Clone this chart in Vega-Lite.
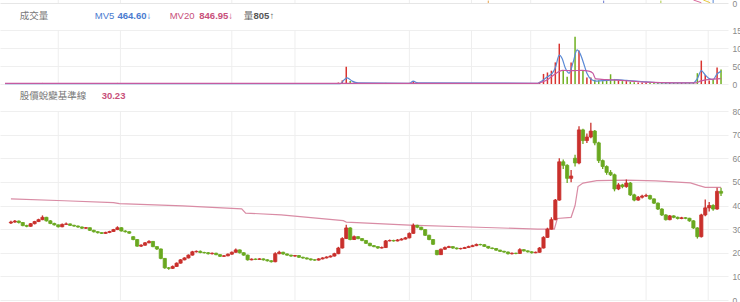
{
  "$schema": "https://vega.github.io/schema/vega-lite/v6.json",
  "width": 728,
  "height": 302,
  "autosize": {"type": "none"},
  "padding": {"left": 0, "top": 0, "right": 12, "bottom": 0},
  "background": "#ffffff",
  "config": {
    "view": {"stroke": null},
    "axis": {"labelFont": "Liberation Sans", "labelFontSize": 8.5, "labelColor": "#8a8a8a", "gridColor": "#efefef", "domain": false, "ticks": false, "tickSize": 0, "labelPadding": 4, "labelOverlap": false, "title": null},
    "text": {"font": "Liberation Sans, Noto Sans CJK TC, sans-serif", "fontSize": 9.5, "align": "left", "baseline": "middle"}
  },
  "datasets": {
    "k": [
      {"t":6,"o":32.6,"c":33.0,"h":33.5,"l":32.2,"v":2},
      {"t":10,"o":33.0,"c":33.4,"h":33.9,"l":32.7,"v":2},
      {"t":14,"o":33.4,"c":32.8,"h":33.6,"l":32.4,"v":2},
      {"t":18,"o":32.8,"c":31.5,"h":33.0,"l":31.2,"v":2},
      {"t":22,"o":31.5,"c":31.2,"h":31.8,"l":30.8,"v":2},
      {"t":26,"o":31.2,"c":32.3,"h":32.6,"l":31.0,"v":2},
      {"t":30,"o":32.3,"c":33.2,"h":33.5,"l":32.0,"v":2},
      {"t":34,"o":33.2,"c":34.0,"h":34.4,"l":33.0,"v":2},
      {"t":38,"o":34.0,"c":35.0,"h":35.8,"l":33.8,"v":3},
      {"t":42,"o":35.0,"c":33.5,"h":35.2,"l":33.2,"v":2},
      {"t":46,"o":33.5,"c":32.4,"h":33.8,"l":32.1,"v":2},
      {"t":50,"o":32.4,"c":31.8,"h":32.7,"l":31.5,"v":2},
      {"t":54,"o":31.8,"c":31.0,"h":32.0,"l":30.7,"v":2},
      {"t":58,"o":31.0,"c":32.0,"h":32.4,"l":30.8,"v":2},
      {"t":62,"o":32.0,"c":32.2,"h":32.8,"l":31.8,"v":2},
      {"t":66,"o":32.2,"c":31.6,"h":32.4,"l":31.3,"v":2},
      {"t":70,"o":31.6,"c":31.3,"h":31.9,"l":31.0,"v":2},
      {"t":74,"o":31.3,"c":30.9,"h":31.5,"l":30.6,"v":2},
      {"t":78,"o":30.9,"c":30.4,"h":31.1,"l":30.1,"v":2},
      {"t":82,"o":30.4,"c":30.6,"h":30.9,"l":30.1,"v":2},
      {"t":86,"o":30.6,"c":29.5,"h":30.7,"l":29.2,"v":2},
      {"t":90,"o":29.5,"c":28.9,"h":29.7,"l":28.6,"v":2},
      {"t":94,"o":28.9,"c":28.5,"h":29.1,"l":28.2,"v":2},
      {"t":98,"o":28.5,"c":28.2,"h":28.7,"l":27.9,"v":2},
      {"t":102,"o":28.2,"c":28.6,"h":28.9,"l":28.0,"v":2},
      {"t":106,"o":28.6,"c":29.0,"h":29.3,"l":28.3,"v":2},
      {"t":110,"o":29.0,"c":29.8,"h":30.1,"l":28.8,"v":2},
      {"t":114,"o":29.8,"c":30.6,"h":31.2,"l":29.6,"v":3},
      {"t":118,"o":30.6,"c":29.2,"h":30.8,"l":29.0,"v":2},
      {"t":122,"o":29.2,"c":28.9,"h":29.5,"l":28.6,"v":2},
      {"t":126,"o":28.9,"c":28.3,"h":29.1,"l":28.0,"v":2},
      {"t":130,"o":26.8,"c":25.6,"h":27.0,"l":25.3,"v":2},
      {"t":134,"o":25.6,"c":22.8,"h":25.8,"l":22.5,"v":3},
      {"t":138,"o":22.8,"c":23.2,"h":23.6,"l":22.4,"v":2},
      {"t":142,"o":23.2,"c":24.2,"h":24.5,"l":23.0,"v":2},
      {"t":146,"o":24.2,"c":24.8,"h":25.3,"l":24.0,"v":2},
      {"t":150,"o":24.8,"c":22.6,"h":25.0,"l":22.3,"v":2},
      {"t":154,"o":22.6,"c":21.6,"h":22.8,"l":21.2,"v":2},
      {"t":158,"o":21.6,"c":17.6,"h":21.8,"l":17.3,"v":3},
      {"t":162,"o":17.6,"c":13.6,"h":17.8,"l":13.2,"v":3},
      {"t":166,"o":13.6,"c":13.4,"h":14.0,"l":12.8,"v":2},
      {"t":170,"o":13.4,"c":14.2,"h":14.6,"l":13.1,"v":2},
      {"t":174,"o":14.2,"c":15.6,"h":15.9,"l":14.0,"v":2},
      {"t":178,"o":15.6,"c":17.0,"h":17.3,"l":15.4,"v":2},
      {"t":182,"o":17.0,"c":17.8,"h":18.1,"l":16.8,"v":2},
      {"t":186,"o":17.8,"c":19.0,"h":19.3,"l":17.6,"v":2},
      {"t":190,"o":19.0,"c":20.4,"h":20.8,"l":18.8,"v":2},
      {"t":194,"o":20.4,"c":20.6,"h":21.0,"l":20.1,"v":2},
      {"t":198,"o":20.6,"c":20.1,"h":20.9,"l":19.8,"v":2},
      {"t":202,"o":20.1,"c":20.0,"h":20.4,"l":19.7,"v":2},
      {"t":206,"o":20.0,"c":19.6,"h":20.3,"l":19.3,"v":2},
      {"t":210,"o":19.6,"c":19.8,"h":20.1,"l":19.3,"v":2},
      {"t":214,"o":19.8,"c":19.2,"h":20.0,"l":18.9,"v":2},
      {"t":218,"o":19.2,"c":18.5,"h":19.4,"l":18.2,"v":2},
      {"t":222,"o":18.5,"c":18.7,"h":19.0,"l":18.2,"v":2},
      {"t":226,"o":18.7,"c":19.4,"h":19.7,"l":18.5,"v":2},
      {"t":230,"o":19.4,"c":20.2,"h":20.5,"l":19.2,"v":2},
      {"t":234,"o":20.2,"c":21.2,"h":21.8,"l":20.0,"v":3},
      {"t":238,"o":21.2,"c":20.0,"h":21.4,"l":19.7,"v":2},
      {"t":242,"o":20.0,"c":19.0,"h":20.2,"l":18.7,"v":2},
      {"t":246,"o":19.0,"c":17.0,"h":19.2,"l":16.7,"v":2},
      {"t":250,"o":17.0,"c":17.3,"h":17.6,"l":16.8,"v":2},
      {"t":254,"o":17.3,"c":17.2,"h":17.6,"l":16.9,"v":2},
      {"t":258,"o":17.2,"c":17.4,"h":17.7,"l":17.0,"v":2},
      {"t":262,"o":17.4,"c":17.0,"h":17.6,"l":16.7,"v":2},
      {"t":266,"o":17.0,"c":16.6,"h":17.2,"l":16.3,"v":2},
      {"t":270,"o":16.6,"c":16.2,"h":16.8,"l":15.9,"v":2},
      {"t":274,"o":16.2,"c":19.6,"h":20.2,"l":16.0,"v":3},
      {"t":278,"o":19.6,"c":20.2,"h":20.8,"l":19.4,"v":2},
      {"t":282,"o":20.2,"c":19.5,"h":20.4,"l":19.2,"v":2},
      {"t":286,"o":19.5,"c":19.0,"h":19.7,"l":18.7,"v":2},
      {"t":290,"o":19.0,"c":18.6,"h":19.2,"l":18.3,"v":2},
      {"t":294,"o":18.6,"c":18.8,"h":19.1,"l":18.3,"v":2},
      {"t":298,"o":18.8,"c":18.1,"h":19.0,"l":17.8,"v":2},
      {"t":302,"o":18.1,"c":17.8,"h":18.3,"l":17.5,"v":2},
      {"t":306,"o":17.8,"c":17.4,"h":18.0,"l":17.1,"v":2},
      {"t":310,"o":17.4,"c":17.0,"h":17.6,"l":16.7,"v":2},
      {"t":314,"o":17.0,"c":16.9,"h":17.3,"l":16.6,"v":2},
      {"t":318,"o":16.9,"c":17.4,"h":17.7,"l":16.7,"v":2},
      {"t":322,"o":17.4,"c":17.8,"h":18.1,"l":17.2,"v":2},
      {"t":326,"o":17.8,"c":18.2,"h":18.5,"l":17.6,"v":2},
      {"t":330,"o":18.2,"c":18.6,"h":18.9,"l":18.0,"v":2},
      {"t":334,"o":18.6,"c":19.6,"h":20.0,"l":18.4,"v":2},
      {"t":338,"o":19.6,"c":22.0,"h":22.5,"l":19.4,"v":4},
      {"t":342,"o":22.0,"c":26.0,"h":26.6,"l":21.8,"v":10},
      {"t":346,"o":26.0,"c":30.5,"h":31.8,"l":25.8,"v":48},
      {"t":350,"o":30.5,"c":25.6,"h":30.8,"l":25.3,"v":8},
      {"t":354,"o":25.6,"c":26.8,"h":27.3,"l":25.4,"v":4},
      {"t":358,"o":26.8,"c":26.0,"h":27.0,"l":25.7,"v":3},
      {"t":362,"o":26.0,"c":25.2,"h":26.2,"l":24.9,"v":3},
      {"t":366,"o":25.2,"c":24.0,"h":25.4,"l":23.7,"v":2},
      {"t":370,"o":24.0,"c":23.0,"h":24.2,"l":22.7,"v":2},
      {"t":374,"o":23.0,"c":22.6,"h":23.3,"l":22.3,"v":2},
      {"t":378,"o":22.6,"c":22.0,"h":22.8,"l":21.7,"v":2},
      {"t":382,"o":22.0,"c":22.2,"h":22.6,"l":21.8,"v":2},
      {"t":386,"o":22.2,"c":25.0,"h":25.4,"l":22.0,"v":3},
      {"t":390,"o":25.0,"c":25.2,"h":25.6,"l":24.8,"v":2},
      {"t":394,"o":25.2,"c":25.0,"h":25.5,"l":24.7,"v":2},
      {"t":398,"o":25.0,"c":25.4,"h":25.8,"l":24.8,"v":2},
      {"t":402,"o":25.4,"c":25.8,"h":26.2,"l":25.2,"v":2},
      {"t":406,"o":25.8,"c":26.3,"h":26.7,"l":25.6,"v":2},
      {"t":410,"o":26.3,"c":28.2,"h":28.6,"l":26.1,"v":3},
      {"t":414,"o":28.2,"c":31.6,"h":32.4,"l":28.0,"v":8},
      {"t":418,"o":31.6,"c":30.8,"h":31.9,"l":30.4,"v":4},
      {"t":422,"o":30.8,"c":29.8,"h":31.0,"l":29.5,"v":3},
      {"t":426,"o":29.8,"c":27.4,"h":30.0,"l":27.1,"v":3},
      {"t":430,"o":27.4,"c":25.6,"h":27.6,"l":25.3,"v":2},
      {"t":434,"o":25.6,"c":23.6,"h":25.8,"l":23.3,"v":2},
      {"t":438,"o":21.0,"c":19.2,"h":21.2,"l":18.9,"v":3},
      {"t":442,"o":19.2,"c":21.5,"h":21.8,"l":19.0,"v":2},
      {"t":446,"o":21.5,"c":22.2,"h":22.6,"l":21.3,"v":2},
      {"t":450,"o":22.2,"c":22.6,"h":23.0,"l":22.0,"v":2},
      {"t":454,"o":22.6,"c":22.0,"h":22.8,"l":21.7,"v":2},
      {"t":458,"o":22.0,"c":21.7,"h":22.2,"l":21.4,"v":2},
      {"t":462,"o":21.7,"c":21.8,"h":22.1,"l":21.4,"v":2},
      {"t":466,"o":21.8,"c":22.2,"h":22.5,"l":21.6,"v":2},
      {"t":470,"o":22.2,"c":22.6,"h":23.0,"l":22.0,"v":2},
      {"t":474,"o":22.6,"c":23.0,"h":23.4,"l":22.4,"v":2},
      {"t":478,"o":23.0,"c":23.5,"h":23.9,"l":22.8,"v":2},
      {"t":482,"o":23.5,"c":23.4,"h":23.8,"l":23.1,"v":2},
      {"t":486,"o":23.4,"c":22.7,"h":23.6,"l":22.4,"v":2},
      {"t":490,"o":22.7,"c":22.0,"h":22.9,"l":21.7,"v":2},
      {"t":494,"o":22.0,"c":21.8,"h":22.2,"l":21.5,"v":2},
      {"t":498,"o":21.8,"c":21.1,"h":22.0,"l":20.8,"v":2},
      {"t":502,"o":21.1,"c":20.6,"h":21.3,"l":20.3,"v":2},
      {"t":506,"o":20.6,"c":20.3,"h":20.8,"l":20.0,"v":2},
      {"t":510,"o":20.3,"c":19.6,"h":20.5,"l":19.3,"v":2},
      {"t":514,"o":19.6,"c":19.8,"h":20.1,"l":19.3,"v":2},
      {"t":518,"o":19.8,"c":19.7,"h":20.0,"l":19.4,"v":2},
      {"t":522,"o":19.7,"c":21.3,"h":21.9,"l":19.5,"v":2},
      {"t":526,"o":21.3,"c":20.8,"h":21.5,"l":20.5,"v":2},
      {"t":530,"o":20.8,"c":20.4,"h":21.0,"l":20.1,"v":2},
      {"t":534,"o":20.4,"c":20.0,"h":20.6,"l":19.7,"v":2},
      {"t":538,"o":20.0,"c":20.2,"h":20.5,"l":19.8,"v":2},
      {"t":542,"o":20.2,"c":22.0,"h":22.4,"l":20.0,"v":6},
      {"t":546,"o":22.0,"c":26.5,"h":27.0,"l":21.8,"v":28},
      {"t":550,"o":26.5,"c":30.0,"h":30.6,"l":26.3,"v":32},
      {"t":554,"o":30.0,"c":34.0,"h":35.0,"l":29.8,"v":37},
      {"t":558,"o":34.0,"c":42.3,"h":42.8,"l":33.8,"v":60},
      {"t":562,"o":42.3,"c":58.5,"h":60.0,"l":42.0,"v":112},
      {"t":566,"o":58.5,"c":57.0,"h":59.5,"l":55.5,"v":37},
      {"t":570,"o":57.0,"c":51.5,"h":57.5,"l":49.5,"v":20},
      {"t":574,"o":51.5,"c":52.5,"h":55.0,"l":49.8,"v":60},
      {"t":578,"o":60.0,"c":58.0,"h":61.5,"l":56.5,"v":131},
      {"t":582,"o":58.0,"c":72.0,"h":73.5,"l":57.5,"v":93},
      {"t":586,"o":72.0,"c":67.5,"h":72.5,"l":66.0,"v":37},
      {"t":590,"o":67.5,"c":69.0,"h":70.5,"l":66.5,"v":18},
      {"t":594,"o":69.0,"c":71.5,"h":75.0,"l":68.5,"v":18},
      {"t":598,"o":71.5,"c":66.5,"h":72.0,"l":65.5,"v":12},
      {"t":602,"o":66.5,"c":59.0,"h":67.0,"l":58.0,"v":10},
      {"t":606,"o":59.0,"c":56.5,"h":59.5,"l":55.5,"v":8},
      {"t":610,"o":56.5,"c":54.0,"h":57.0,"l":53.0,"v":12},
      {"t":614,"o":54.0,"c":53.0,"h":55.0,"l":52.5,"v":27},
      {"t":618,"o":53.0,"c":47.0,"h":53.5,"l":46.0,"v":14},
      {"t":622,"o":47.0,"c":48.7,"h":49.5,"l":46.5,"v":10},
      {"t":626,"o":48.7,"c":48.0,"h":49.2,"l":47.3,"v":8},
      {"t":630,"o":48.0,"c":49.5,"h":51.0,"l":47.5,"v":8},
      {"t":634,"o":49.5,"c":44.5,"h":50.0,"l":44.0,"v":6},
      {"t":638,"o":44.5,"c":42.3,"h":45.0,"l":41.8,"v":5},
      {"t":642,"o":42.3,"c":43.5,"h":44.0,"l":42.0,"v":4},
      {"t":646,"o":43.5,"c":44.0,"h":44.6,"l":43.0,"v":4},
      {"t":650,"o":44.0,"c":44.2,"h":45.0,"l":43.6,"v":4},
      {"t":654,"o":44.2,"c":42.8,"h":44.5,"l":42.4,"v":4},
      {"t":658,"o":42.8,"c":41.0,"h":43.0,"l":40.6,"v":3},
      {"t":662,"o":41.0,"c":38.5,"h":41.3,"l":38.1,"v":3},
      {"t":666,"o":38.5,"c":36.0,"h":38.8,"l":35.6,"v":3},
      {"t":670,"o":36.0,"c":34.0,"h":36.3,"l":33.6,"v":3},
      {"t":674,"o":34.0,"c":35.6,"h":36.0,"l":33.8,"v":3},
      {"t":678,"o":35.6,"c":35.0,"h":35.9,"l":34.6,"v":3},
      {"t":682,"o":35.0,"c":34.5,"h":35.3,"l":34.1,"v":3},
      {"t":686,"o":34.5,"c":34.8,"h":35.2,"l":34.2,"v":3},
      {"t":690,"o":34.8,"c":34.6,"h":35.1,"l":34.2,"v":3},
      {"t":694,"o":34.6,"c":33.5,"h":34.8,"l":33.1,"v":3},
      {"t":698,"o":33.5,"c":30.5,"h":33.8,"l":30.1,"v":4},
      {"t":702,"o":30.5,"c":26.8,"h":30.8,"l":26.0,"v":30},
      {"t":706,"o":26.8,"c":36.0,"h":36.5,"l":26.5,"v":65},
      {"t":710,"o":36.0,"c":39.0,"h":42.5,"l":35.5,"v":25},
      {"t":714,"o":39.0,"c":40.0,"h":41.5,"l":37.5,"v":10},
      {"t":718,"o":40.0,"c":38.5,"h":40.5,"l":37.8,"v":14},
      {"t":722,"o":38.5,"c":46.0,"h":47.5,"l":38.2,"v":46},
      {"t":726,"o":46.0,"c":45.2,"h":47.5,"l":44.0,"v":40}
    ],
    "base": [
      {"t":6,"p":42.8},{"t":60,"p":42.0},{"t":110,"p":41.2},{"t":116,"p":40.8},{"t":180,"p":39.8},
      {"t":240,"p":38.6},{"t":244,"p":36.8},{"t":280,"p":36.0},{"t":343,"p":33.6},{"t":346,"p":33.0},
      {"t":410,"p":31.7},{"t":480,"p":30.8},{"t":540,"p":30.0},{"t":557,"p":30.0},{"t":560,"p":34.5},
      {"t":574,"p":35.0},{"t":578,"p":40.0},{"t":581,"p":48.0},{"t":586,"p":49.5},{"t":600,"p":50.5},
      {"t":630,"p":50.7},{"t":660,"p":50.4},{"t":695,"p":49.6},{"t":703,"p":48.5},{"t":710,"p":47.7},{"t":726,"p":47.7}
    ],
    "mv5": [
      {"t":0,"m":1},{"t":340,"m":1},{"t":344,"m":12},{"t":347,"m":17},{"t":352,"m":8},{"t":358,"m":3},
      {"t":410,"m":2},{"t":414,"m":8},{"t":418,"m":3},{"t":540,"m":2},{"t":545,"m":10},{"t":550,"m":20},
      {"t":555,"m":30},{"t":558,"m":45},{"t":562,"m":80},{"t":565,"m":70},{"t":568,"m":45},{"t":572,"m":30},
      {"t":576,"m":60},{"t":580,"m":95},{"t":583,"m":85},{"t":587,"m":55},{"t":590,"m":30},{"t":595,"m":12},
      {"t":600,"m":8},{"t":610,"m":10},{"t":620,"m":12},{"t":630,"m":10},{"t":640,"m":8},{"t":650,"m":6},
      {"t":660,"m":4},{"t":680,"m":3},{"t":698,"m":3},{"t":702,"m":15},{"t":706,"m":37},{"t":710,"m":25},
      {"t":714,"m":15},{"t":718,"m":12},{"t":722,"m":28},{"t":726,"m":35}
    ],
    "mv20": [
      {"t":0,"m":1.5},{"t":540,"m":2},{"t":545,"m":6},{"t":550,"m":12},{"t":555,"m":22},{"t":560,"m":32},
      {"t":565,"m":38},{"t":575,"m":37},{"t":585,"m":38},{"t":592,"m":36},{"t":596,"m":30},{"t":599,"m":14},
      {"t":610,"m":12},{"t":620,"m":11},{"t":635,"m":8},{"t":650,"m":5},{"t":680,"m":3},{"t":700,"m":3},
      {"t":705,"m":8},{"t":712,"m":12},{"t":726,"m":15}
    ],
    "grid": [{"t":54},{"t":117},{"t":230},{"t":294},{"t":410},{"t":473},{"t":533},{"t":650},{"t":713}],
    "osc": [
      {"t":490,"a":0,"b":0.8,"col":"#e8a048"},
      {"t":607,"a":0,"b":0.8,"col":"#6a78d0"},
      {"t":665,"a":0,"b":0.8,"col":"#a8c840"},
      {"t":718,"a":0,"b":1,"col":"#5a8ad6"}
    ],
    "oscl": [
      {"t":698,"y":1,"g":"p"},{"t":706,"y":0.1,"g":"p"},
      {"t":708,"y":1,"g":"y"},{"t":715,"y":0.1,"g":"y"}
    ],
    "hv": [
      {"t":15,"y":189,"s":"成交量","col":"#777777"},
      {"t":91,"y":189,"s":"MV5","col":"#4a7bd0"},
      {"t":167,"y":189,"s":"MV20","col":"#c8507a"},
      {"t":242,"y":189,"s":"量","col":"#666666"}
    ],
    "hvb": [
      {"t":114,"y":189,"s":"464.60↓","col":"#4a7bd0"},
      {"t":197,"y":189,"s":"846.95↓","col":"#c8507a"},
      {"t":252,"y":189,"s":"805↑","col":"#555555"}
    ],
    "hp": [{"t":15,"y":86.3,"s":"股價蛻變基準線","col":"#777777"}],
    "hpb": [{"t":98,"y":86.3,"s":"30.23","col":"#c8507a"}]
  },
  "encoding": {
    "x": {"field": "t", "type": "quantitative", "scale": {"domain": [0, 728], "range": [0, 728], "nice": false, "zero": false}, "axis": null}
  },
  "layer": [
    {
      "layer": [
        {
          "data": {"name": "grid"},
          "mark": {"type": "rule", "color": "#eeeeee", "strokeWidth": 1},
          "encoding": {
            "y": {"datum": 0, "type": "quantitative", "scale": {"domain": [0, 80], "range": [300, 111], "nice": false, "zero": false},
                  "axis": {"orient": "right", "values": [0, 10, 20, 30, 40, 50, 60, 70, 80], "grid": true, "title": null}},
            "y2": {"datum": 80}
          }
        },
        {
          "data": {"name": "base"},
          "mark": {"type": "line", "color": "#d98ca5", "strokeWidth": 1.2},
          "encoding": {"y": {"field": "p", "type": "quantitative", "axis": {"orient": "right", "values": [0, 10, 20, 30, 40, 50, 60, 70, 80], "grid": true, "title": null}}}
        },
        {
          "data": {"name": "k"},
          "mark": {"type": "rule", "strokeWidth": 1.3},
          "encoding": {
            "y": {"field": "l", "type": "quantitative", "axis": {"orient": "right", "values": [0, 10, 20, 30, 40, 50, 60, 70, 80], "grid": true, "title": null}},
            "y2": {"field": "h"},
            "color": {"condition": {"test": "datum.c >= datum.o", "value": "#c9302c"}, "value": "#6aa820"}
          }
        },
        {
          "data": {"name": "k"},
          "mark": {"type": "bar", "size": 3.2, "strokeWidth": 0.8},
          "encoding": {
            "y": {"field": "o", "type": "quantitative", "axis": {"orient": "right", "values": [0, 10, 20, 30, 40, 50, 60, 70, 80], "grid": true, "title": null}},
            "y2": {"field": "c"},
            "color": {"condition": {"test": "datum.c >= datum.o", "value": "#c9302c"}, "value": "#6aa820"},
            "stroke": {"condition": {"test": "datum.c >= datum.o", "value": "#c9302c"}, "value": "#6aa820"}
          }
        },
        {
          "data": {"name": "hp"},
          "mark": {"type": "text"},
          "encoding": {
            "y": {"field": "y", "type": "quantitative", "axis": {"orient": "right", "values": [0, 10, 20, 30, 40, 50, 60, 70, 80], "grid": true, "title": null}},
            "text": {"field": "s"},
            "color": {"field": "col", "type": "nominal", "scale": null}
          }
        },
        {
          "data": {"name": "hpb"},
          "mark": {"type": "text", "fontWeight": "bold"},
          "encoding": {
            "y": {"field": "y", "type": "quantitative", "axis": {"orient": "right", "values": [0, 10, 20, 30, 40, 50, 60, 70, 80], "grid": true, "title": null}},
            "text": {"field": "s"},
            "color": {"field": "col", "type": "nominal", "scale": null}
          }
        }
      ]
    },
    {
      "layer": [
        {
          "data": {"name": "grid"},
          "mark": {"type": "rule", "color": "#eeeeee", "strokeWidth": 1},
          "encoding": {
            "y": {"datum": 0, "type": "quantitative", "scale": {"domain": [0, 150], "range": [84, 30], "nice": false, "zero": false},
                  "axis": {"orient": "right", "values": [0, 50, 100, 150], "grid": true, "title": null}},
            "y2": {"datum": 150}
          }
        },
        {
          "data": {"name": "k"},
          "mark": {"type": "bar", "size": 1.5},
          "encoding": {
            "y": {"field": "v", "type": "quantitative", "axis": {"orient": "right", "values": [0, 50, 100, 150], "grid": true, "title": null}},
            "y2": {"datum": 0},
            "color": {"condition": {"test": "datum.c >= datum.o", "value": "#d9342f"}, "value": "#6fb020"}
          }
        },
        {
          "data": {"name": "mv5"},
          "mark": {"type": "line", "color": "#5a8ad6", "strokeWidth": 1.2, "interpolate": "monotone"},
          "encoding": {"y": {"field": "m", "type": "quantitative", "axis": {"orient": "right", "values": [0, 50, 100, 150], "grid": true, "title": null}}}
        },
        {
          "data": {"name": "mv20"},
          "mark": {"type": "line", "color": "#c65aa0", "strokeWidth": 1.2, "interpolate": "monotone"},
          "encoding": {"y": {"field": "m", "type": "quantitative", "axis": {"orient": "right", "values": [0, 50, 100, 150], "grid": true, "title": null}}}
        },
        {
          "data": {"name": "hv"},
          "mark": {"type": "text"},
          "encoding": {
            "y": {"field": "y", "type": "quantitative", "axis": {"orient": "right", "values": [0, 50, 100, 150], "grid": true, "title": null}},
            "text": {"field": "s"},
            "color": {"field": "col", "type": "nominal", "scale": null}
          }
        },
        {
          "data": {"name": "hvb"},
          "mark": {"type": "text", "fontWeight": "bold"},
          "encoding": {
            "y": {"field": "y", "type": "quantitative", "axis": {"orient": "right", "values": [0, 50, 100, 150], "grid": true, "title": null}},
            "text": {"field": "s"},
            "color": {"field": "col", "type": "nominal", "scale": null}
          }
        }
      ]
    },
    {
      "layer": [
        {
          "data": {"name": "grid"},
          "mark": {"type": "rule", "color": "#eeeeee", "strokeWidth": 1},
          "encoding": {
            "y": {"datum": 0, "type": "quantitative", "scale": {"domain": [0, 1], "range": [3, 0], "nice": false, "zero": false},
                  "axis": {"orient": "right", "values": [0], "grid": true, "gridColor": "#e6e6e6", "title": null}},
            "y2": {"datum": 1}
          }
        },
        {
          "data": {"name": "osc"},
          "mark": {"type": "rule", "strokeWidth": 1},
          "encoding": {
            "y": {"field": "a", "type": "quantitative", "axis": {"orient": "right", "values": [0], "grid": true, "gridColor": "#e6e6e6", "title": null}},
            "y2": {"field": "b"},
            "color": {"field": "col", "type": "nominal", "scale": null}
          }
        },
        {
          "data": {"name": "oscl"},
          "mark": {"type": "line", "strokeWidth": 1},
          "encoding": {
            "y": {"field": "y", "type": "quantitative", "axis": {"orient": "right", "values": [0], "grid": true, "gridColor": "#e6e6e6", "title": null}},
            "detail": {"field": "g"},
            "color": {"field": "g", "type": "nominal", "scale": {"domain": ["p", "y"], "range": ["#d9689a", "#e8c840"]}, "legend": null}
          }
        }
      ]
    }
  ],
  "resolve": {"scale": {"y": "independent"}, "axis": {"y": "independent"}}
}
